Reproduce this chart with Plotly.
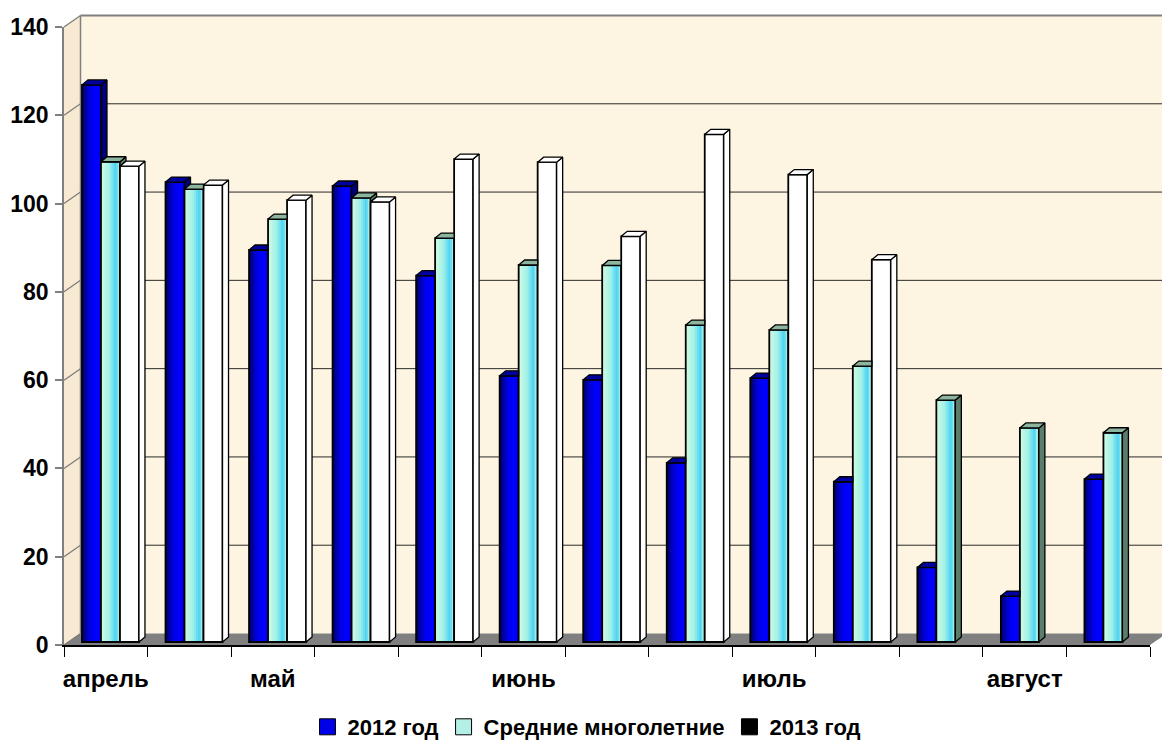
import plotly.graph_objects as go

# ---- data -------------------------------------------------------------
groups = list(range(13))
month_labels = ["апрель", "", "май", "", "", "июнь", "", "", "июль", "", "", "август", ""]

series_names = ["2012 год", "Средние многолетние", "2013 год"]
v2012 = [126.2, 104.2, 88.8, 103.3, 83.0, 60.3, 59.4, 40.6, 59.8, 36.3, 16.9, 10.4, 36.9]
v_mean = [108.8, 102.6, 95.8, 100.6, 91.5, 85.4, 85.3, 71.8, 70.7, 62.5, 54.8, 48.5, 47.4]
v2013 = [107.8, 103.5, 100.1, 99.7, 109.4, 108.7, 91.9, 115.0, 105.9, 86.6, None, None, None]
y_ticks = [0, 20, 40, 60, 80, 100, 120, 140]

# ---- geometry / style -------------------------------------------------
W, H = 1162, 740
ML, MR, MT, MB = 64, 12, 27, 95
PW, PH = W - ML - MR, H - MT - MB
Y_MAX = 140
X_MIN, X_MAX = -0.5, 12.5
UX = PW / (X_MAX - X_MIN)      # px per category unit
UY = PH / Y_MAX                # px per value unit

WALL_DX, WALL_DY = 16.5, 11.5  # depth of the 3-D box, px
BAR_W = 19 / UX                # bar front width
BAR_DX = 6 / UX                # bar depth (x)
BAR_DY = 5 / UY                # bar depth (y)
SHIFT = 4.7 / UX               # bars sit a little behind the front plane
LIFT = 3 / UY

FONT = "Liberation Sans, Arial, sans-serif"
BACK = "#FDF5E1"
SIDE = "#F8EAD2"
FLOOR = "#808080"


def px(xp):
    return (xp - ML) / PW


def py(yp):
    return (H - MB - yp) / PH


def lerp_color(stops, t):
    for (t0, c0), (t1, c1) in zip(stops, stops[1:]):
        if t0 <= t <= t1:
            f = 0 if t1 == t0 else (t - t0) / (t1 - t0)
            c = [round(a + (b - a) * f) for a, b in zip(c0, c1)]
            return f"rgb({c[0]},{c[1]},{c[2]})"
    c = stops[-1][1]
    return f"rgb({c[0]},{c[1]},{c[2]})"


series = [
    dict(name=series_names[0], vals=v2012,
         grad=[(0, (0, 0, 100)), (0.4, (0, 0, 225)), (0.7, (0, 0, 255)), (1, (0, 0, 245))],
         top="#0000A0", side="#000078", legend="#0000E6"),
    dict(name=series_names[1], vals=v_mean,
         grad=[(0, (210, 252, 226)), (0.45, (160, 240, 232)), (0.78, (72, 210, 244)), (1, (185, 245, 228))],
         top="#8DB49E", side="#5C7C6C", legend="#B4F0E6"),
    dict(name=series_names[2], vals=v2013,
         grad=[(0, (255, 255, 255)), (1, (255, 255, 255))],
         top="#FFFFFF", side="#FFFFFF", legend="#000000"),
]

fig = go.Figure()

N_STRIPS = 10
for k, s in enumerate(series):
    xs = [g for g, v in zip(groups, s["vals"]) if v is not None]
    ys = [v for v in s["vals"] if v is not None]
    off0 = SHIFT + (k - 1.5) * BAR_W
    strips = 1 if k == 2 else N_STRIPS
    for j in range(strips):
        t = (j + 0.5) / strips
        fig.add_trace(go.Bar(
            x=xs, y=ys, base=LIFT,
            offset=off0 + j * BAR_W / strips,
            width=BAR_W - j * BAR_W / strips,
            marker=dict(color=lerp_color(s["grad"], t), line=dict(width=0)),
            showlegend=False, hoverinfo="skip",
        ))
    # outline of the front face
    fig.add_trace(go.Bar(
        x=xs, y=ys, base=LIFT, offset=off0, width=BAR_W,
        marker=dict(color="rgba(0,0,0,0)", line=dict(color="black", width=1.8)),
        showlegend=False, hoverinfo="skip",
    ))

# top and side faces of every bar
for k, s in enumerate(series):
    nxt = series[k + 1]["vals"] if k + 1 < len(series) else [None] * len(groups)
    side_x, side_y, top_x, top_y = [], [], [], []
    for g, v, vn in zip(groups, s["vals"], nxt):
        if v is None:
            continue
        x0 = g + SHIFT + (k - 1.5) * BAR_W
        x1 = x0 + BAR_W
        t = v + LIFT
        tn = None if vn is None else vn + LIFT
        # top face (its right part is hidden when the next bar is taller)
        if tn is not None and tn > t:
            top_x += [x0, x1, x1, x0 + BAR_DX, x0, None]
            top_y += [t, t, t + BAR_DY, t + BAR_DY, t, None]
        else:
            top_x += [x0, x1, x1 + BAR_DX, x0 + BAR_DX, x0, None]
            top_y += [t, t, t + BAR_DY, t + BAR_DY, t, None]
        # side face, visible only above the neighbour standing in front of it
        sb = LIFT if tn is None else max(LIFT, tn)
        if sb < t:
            side_x += [x1, x1 + BAR_DX, x1 + BAR_DX, x1, x1, None]
            side_y += [sb, sb + BAR_DY, t + BAR_DY, t, sb, None]
    fig.add_trace(go.Scatter(
        x=side_x, y=side_y, mode="lines", fill="toself", fillcolor=s["side"],
        line=dict(color="black", width=1.3), showlegend=False, hoverinfo="skip",
    ))
    fig.add_trace(go.Scatter(
        x=top_x, y=top_y, mode="lines", fill="toself", fillcolor=s["top"],
        line=dict(color="black", width=1.3), showlegend=False, hoverinfo="skip",
    ))

# legend entries
for s in series:
    fig.add_trace(go.Scatter(
        x=[None], y=[None], mode="markers", name=s["name"],
        marker=dict(symbol="square", size=16, color=s["legend"],
                    line=dict(color="black", width=1)),
    ))

# ---- 3-D box: walls, floor and back-wall grid -------------------------
shapes = []
# back wall
shapes.append(dict(type="rect", xref="paper", yref="paper", layer="below",
                   x0=px(ML + WALL_DX), x1=px(W), y0=py(H - MB - WALL_DY), y1=py(MT - WALL_DY),
                   fillcolor=BACK, line=dict(width=0)))
# left wall
shapes.append(dict(type="path", xref="paper", yref="paper", layer="below",
                   path=(f"M{px(ML)},{py(H - MB)} L{px(ML)},{py(MT)} "
                         f"L{px(ML + WALL_DX)},{py(MT - WALL_DY)} "
                         f"L{px(ML + WALL_DX)},{py(H - MB - WALL_DY)} Z"),
                   fillcolor=SIDE, line=dict(width=0)))
# floor
shapes.append(dict(type="path", xref="paper", yref="paper", layer="below",
                   path=(f"M{px(ML)},{py(H - MB)} L{px(W - MR)},{py(H - MB)} "
                         f"L{px(W - MR + WALL_DX)},{py(H - MB - WALL_DY)} "
                         f"L{px(ML + WALL_DX)},{py(H - MB - WALL_DY)} Z"),
                   fillcolor=FLOOR, line=dict(width=0)))
# grid on the back wall + diagonals across the left wall
for v in y_ticks:
    yf = H - MB - v * UY
    yb = yf - WALL_DY
    shapes.append(dict(type="line", xref="paper", yref="paper", layer="below",
                       x0=px(ML), y0=py(yf), x1=px(ML + WALL_DX), y1=py(yb),
                       line=dict(color="#7A7A7A", width=1.2)))
    if 0 < v < Y_MAX:
        shapes.append(dict(type="line", xref="paper", yref="paper", layer="below",
                           x0=px(ML + WALL_DX), y0=py(yb), x1=px(W), y1=py(yb),
                           line=dict(color="#2A2A2A", width=1)))
# top and left edges of the back wall
shapes.append(dict(type="line", xref="paper", yref="paper", layer="below",
                   x0=px(ML + WALL_DX), y0=py(MT - WALL_DY), x1=px(W), y1=py(MT - WALL_DY),
                   line=dict(color="#808080", width=2)))
shapes.append(dict(type="line", xref="paper", yref="paper", layer="below",
                   x0=px(ML + WALL_DX), y0=py(MT - WALL_DY), x1=px(ML + WALL_DX),
                   y1=py(H - MB - WALL_DY),
                   line=dict(color="#808080", width=1.5)))

label_vals = [g for g, lab in zip(groups, month_labels) if lab]
label_text = [lab for lab in month_labels if lab]

fig.update_layout(
    width=W, height=H,
    margin=dict(l=ML, r=MR, t=MT, b=MB),
    paper_bgcolor="white", plot_bgcolor="rgba(0,0,0,0)",
    barmode="overlay",
    shapes=shapes,
    font=dict(family=FONT, color="black"),
    xaxis=dict(
        range=[X_MIN, X_MAX], showgrid=False, zeroline=False, automargin=False,
        showline=True, linecolor="black", linewidth=1.5,
        tickmode="array", tickvals=label_vals, ticktext=label_text,
        ticks="", ticklabelstandoff=11,
        tickfont=dict(family=FONT, size=24, weight="bold", color="black"),
        minor=dict(tickmode="linear", tick0=-0.5, dtick=1, ticks="outside",
                   ticklen=10, tickcolor="black", tickwidth=1, showgrid=False),
    ),
    yaxis=dict(
        range=[0, Y_MAX], showgrid=False, zeroline=False, automargin=False,
        showline=True, linecolor="#808080", linewidth=1.5,
        tickmode="array", tickvals=y_ticks,
        ticks="outside", ticklen=7, tickcolor="#808080", tickwidth=1.5,
        ticklabelstandoff=2,
        tickfont=dict(family=FONT, size=23, weight="bold", color="black"),
    ),
    legend=dict(
        orientation="h", xref="container", yref="container",
        x=587 / W, xanchor="center", y=1 - 727 / H, yanchor="middle",
        font=dict(family=FONT, size=22, weight="bold", color="black"),
        itemwidth=30, tracegroupgap=0, bgcolor="rgba(0,0,0,0)",
    ),
)

fig.write_html("out.html")
